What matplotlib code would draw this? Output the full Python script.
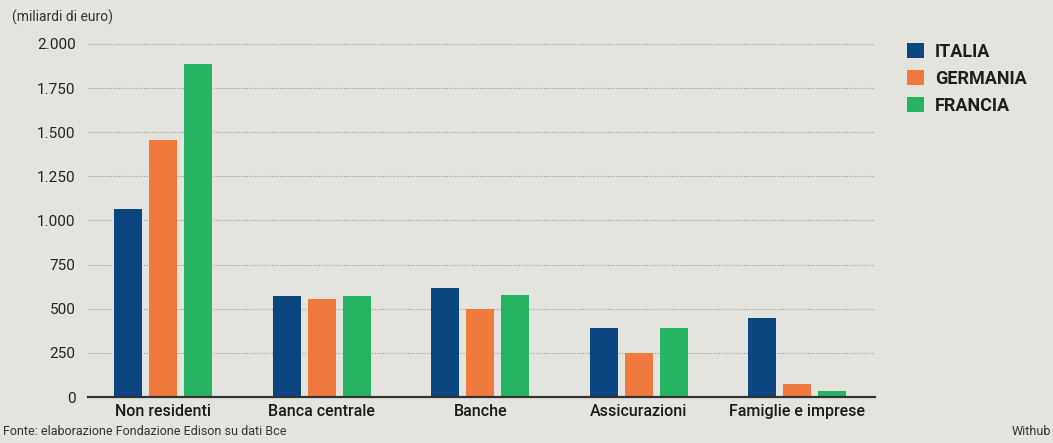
import numpy as np
import matplotlib
matplotlib.use("Agg")
import matplotlib.pyplot as plt

# data (miliardi di euro)
categorie = ["Non residenti", "Banca centrale", "Banche", "Assicurazioni", "Famiglie e imprese"]
italia = [1063, 572, 618, 389, 446]
germania = [1458, 555, 499, 248, 75]
francia = [1885, 572, 578, 389, 36]
paesi = ["ITALIA", "GERMANIA", "FRANCIA"]
colori = ["#0b4680", "#f07a3e", "#27b462"]
yticks = [0, 250, 500, 750, 1000, 1250, 1500, 1750, 2000]
ytick_labels = ["0", "250", "500", "750", "1.000", "1.250", "1.500", "1.750", "2.000"]

BG = "#e4e4de"
FONT = ["Roboto", "DejaVu Sans"]
plt.rcParams["font.family"] = FONT

fig = plt.figure(figsize=(10.53, 4.43), dpi=100, facecolor=BG)
ax = fig.add_axes([0.0836, 0.1038, 0.7474, 0.797])
ax.set_facecolor(BG)

x = np.arange(len(categorie))
w = 0.177
step = 0.221
serie = [italia, germania, francia]
for i, (vals, col, nome) in enumerate(zip(serie, colori, paesi)):
    ax.bar(x + (i - 1) * step, vals, width=w, color=col, label=nome, zorder=3)

ax.set_xlim(-0.473, 4.49)
ax.set_ylim(0, 2000)
ax.set_yticks(yticks)
ax.set_yticklabels(ytick_labels, fontsize=11, color="#222222")
ax.set_xticks(x)
ax.set_xticklabels(categorie, fontsize=11.5, fontweight="medium", color="#1a1a1a")
ax.tick_params(axis="both", length=0)
ax.tick_params(axis="y", pad=9)
ax.tick_params(axis="x", pad=5)

for s in ["top", "right", "left"]:
    ax.spines[s].set_visible(False)
ax.spines["bottom"].set_color("#333333")
ax.spines["bottom"].set_linewidth(1.6)
ax.spines["bottom"].set_zorder(4)

for yv in yticks[1:]:
    ax.axhline(yv, color="#9a9a9a", linestyle=(0, (1.0, 1.5)), linewidth=0.8, zorder=1)

leg = fig.legend(loc="upper left", bbox_to_anchor=(0.846, 0.94), frameon=False,
                 handlelength=0.95, handleheight=0.95, handletextpad=0.6,
                 labelspacing=0.5, prop={"family": FONT, "size": 13, "weight": "bold"})
for t in leg.get_texts():
    t.set_color("#1e1e1e")

fig.text(0.011, 0.962, "(miliardi di euro)", fontsize=10, color="#333333", va="center")
fig.text(0.003, 0.025, "Fonte: elaborazione Fondazione Edison su dati Bce", fontsize=9,
         color="#333333", va="center")
fig.text(0.998, 0.025, "Withub", fontsize=9, color="#333333", va="center", ha="right")

fig.savefig("out.png", dpi=100, facecolor=BG)
